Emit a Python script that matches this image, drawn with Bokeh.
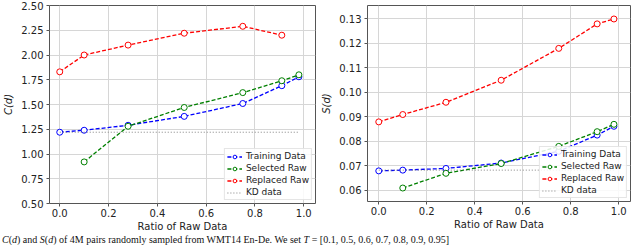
from bokeh.plotting import figure
from bokeh.layouts import row, column
from bokeh.models import Legend, LegendItem, FixedTicker, PrintfTickFormatter, Range1d, Div
from bokeh.embed import file_html
from bokeh.resources import INLINE

# ---- data ----
x_ratio = [0.0, 0.1, 0.28, 0.51, 0.75, 0.91, 0.98]
x_sel = [0.1, 0.28, 0.51, 0.75, 0.91, 0.98]
x_rep_c = [0.0, 0.1, 0.28, 0.51, 0.75, 0.91]
x_kd = [0.0, 0.98]

c_training = [1.22, 1.24, 1.29, 1.38, 1.51, 1.69, 1.78]
c_selected = [0.92, 1.28, 1.47, 1.62, 1.74, 1.80]
c_replaced = [1.83, 2.00, 2.10, 2.22, 2.29, 2.20]
c_kd = [1.22, 1.22]

s_training = [0.068, 0.0683, 0.069, 0.0712, 0.076, 0.0826, 0.0862]
s_selected = [0.061, 0.067, 0.071, 0.078, 0.084, 0.087]
s_replaced = [0.088, 0.091, 0.096, 0.105, 0.118, 0.128, 0.130]
s_kd = [0.0683, 0.0683]

x_ticks = [0.0, 0.2, 0.4, 0.6, 0.8, 1.0]
c_ticks = [0.50, 0.75, 1.00, 1.25, 1.50, 1.75, 2.00, 2.25, 2.50]
s_ticks = [0.06, 0.07, 0.08, 0.09, 0.10, 0.11, 0.12, 0.13]

caption_html = ("<i>C</i>(<i>d</i>) and <i>S</i>(<i>d</i>) of 4M pairs randomly sampled from "
                "WMT14 En-De. We set <i>T</i> = [0.1, 0.5, 0.6, 0.7, 0.8, 0.9, 0.95]")

FONT = "DejaVu Sans"
BLUE, GREEN, RED, GRAY = "#0000ff", "#008000", "#ff0000", "#808080"


def make_fig(xr, yr, yticks, ylabel, fw, fh, bl, br, bt, bb, series, kd):
    p = figure(output_backend="svg", toolbar_location=None,
               frame_width=fw, frame_height=fh,
               min_border_left=bl, min_border_right=br,
               min_border_top=bt, min_border_bottom=bb,
               x_range=Range1d(*xr), y_range=Range1d(*yr))
    p.background_fill_color = "white"
    p.border_fill_color = "white"
    p.outline_line_color = "#555555"
    p.outline_line_width = 1
    for ax in (p.xaxis, p.yaxis):
        ax.axis_line_color = None
        ax.major_tick_out = 3
        ax.major_tick_in = 0
        ax.minor_tick_line_color = None
        ax.major_tick_line_color = "#555555"
        ax.major_label_text_font = FONT
        ax.major_label_text_font_size = "10px"
        ax.major_label_text_color = "#222222"
        ax.axis_label_text_font = FONT
        ax.axis_label_text_font_size = "10px"
        ax.axis_label_text_color = "#222222"
        ax.axis_label_text_font_style = "normal"
        ax.major_label_standoff = 3
    p.xaxis.major_label_standoff = 2
    p.xaxis.ticker = FixedTicker(ticks=x_ticks)
    p.xaxis.formatter = PrintfTickFormatter(format="%.1f")
    p.yaxis.ticker = FixedTicker(ticks=yticks)
    p.yaxis.formatter = PrintfTickFormatter(format="%.2f")
    p.xaxis.axis_label = "Ratio of Raw Data"
    p.xaxis.axis_label_standoff = 1
    p.yaxis.axis_label = ylabel
    p.yaxis.axis_label_text_font_style = "italic"
    p.yaxis.axis_label_standoff = 4
    p.grid.grid_line_color = "#d6d6d6"
    p.grid.grid_line_width = 1

    items = []
    for label, xs, ys, color in series:
        lr = p.line(xs, ys, line_color=color, line_width=1.3, line_dash="4 2")
        sr = p.scatter(xs, ys, marker="circle", size=6, line_color=color,
                       fill_color="white", line_width=1)
        items.append(LegendItem(label=label, renderers=[lr, sr]))
    kr = p.line(kd[0], kd[1], line_color=GRAY, line_width=1, line_dash="1 2")
    items.append(LegendItem(label="KD data", renderers=[kr]))

    leg = Legend(items=items, location="bottom_right")
    leg.label_text_font = FONT
    leg.label_text_font_size = "9px"
    leg.label_text_color = "#222222"
    leg.label_height = 9
    leg.glyph_height = 9
    leg.glyph_width = 15
    leg.label_standoff = 4
    leg.spacing = 2
    leg.padding = 2
    leg.margin = 3
    leg.border_line_color = "#cccccc"
    leg.background_fill_alpha = 0.85
    p.add_layout(leg)
    return p


left = make_fig((-0.042, 1.048), (0.5, 2.5), c_ticks, "C(d)",
                266, 198, 49, 3, 5, 28,
                [("Training Data", x_ratio, c_training, BLUE),
                 ("Selected Raw", x_sel, c_selected, GREEN),
                 ("Replaced Raw", x_rep_c, c_replaced, RED)],
                (x_kd, c_kd))

right = make_fig((-0.047, 1.049), (0.0555, 0.1355), s_ticks, "S(d)",
                 263, 196, 44, 15, 5, 30,
                 [("Training Data", x_ratio, s_training, BLUE),
                  ("Selected Raw", x_sel, s_selected, GREEN),
                  ("Replaced Raw", x_ratio, s_replaced, RED)],
                 (x_kd, s_kd))

caption = Div(text=caption_html, width=636, height=12, margin=0,
              styles={"font-family": "'Liberation Serif', serif",
                      "font-size": "10px", "line-height": "11px",
                      "color": "#111111", "white-space": "nowrap",
                      "overflow": "hidden", "padding-left": "2px"})

layout = column(row(left, right), caption, spacing=0)

open("out.html", "w").write(file_html(layout, INLINE))
